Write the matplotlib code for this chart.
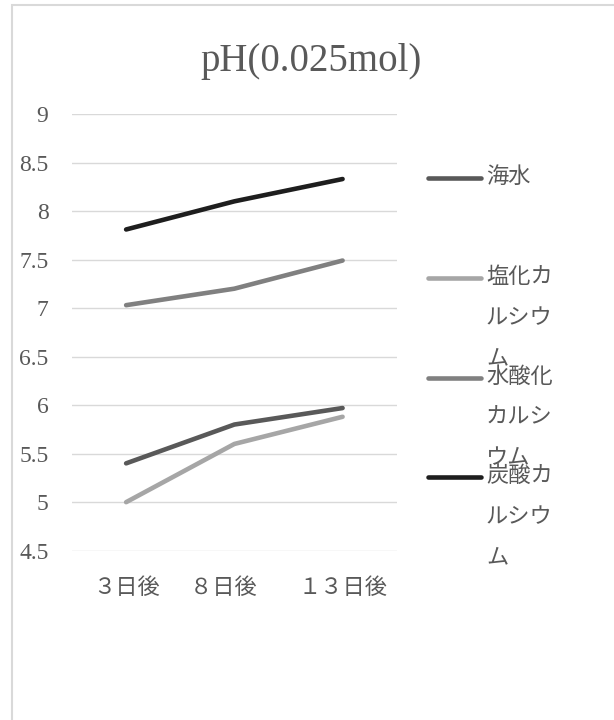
import matplotlib
matplotlib.use("Agg")
import matplotlib.pyplot as plt
from matplotlib.lines import Line2D
from matplotlib.patches import Rectangle

# Data
days = ["３日後", "８日後　", "１３日後"]
series_names = ["海水", "塩化カルシウム", "水酸化カルシウム", "炭酸カルシウム"]
legend_labels = ["海水", "塩化カ\nルシウ\nム", "水酸化\nカルシ\nウム", "炭酸カ\nルシウ\nム"]
seawater = [5.40, 5.80, 5.97]
calcium_chloride = [5.00, 5.60, 5.88]
calcium_hydroxide = [7.03, 7.20, 7.49]
calcium_carbonate = [7.81, 8.10, 8.33]
y_ticks = [4.5, 5, 5.5, 6, 6.5, 7, 7.5, 8, 8.5, 9]
y_tick_labels = ["4.5", "5", "5.5", "6", "6.5", "7", "7.5", "8", "8.5", "9"]

colors = ["#595959", "#a6a6a6", "#808080", "#1e1e1e"]
text_color = "#595959"
grid_color = "#d9d9d9"

W, H = 614, 720
DPI = 100
fig = plt.figure(figsize=(W / DPI, H / DPI), dpi=DPI)
fig.patch.set_facecolor("white")

def fx(px):
    return px / W

def fy(py):
    return 1 - py / H

# chart-area border (top and left edges visible)
fig.add_artist(Rectangle((fx(11.5), fy(900)), fx(800), fy(5) - fy(900),
                         transform=fig.transFigure, fill=False,
                         edgecolor=grid_color, linewidth=1.5))

ax = fig.add_axes([fx(72), fy(550.7), fx(396.7) - fx(72), fy(114) - fy(550.7)])
ax.set_facecolor("none")

x = list(range(len(days)))
for vals, c in zip([seawater, calcium_chloride, calcium_hydroxide, calcium_carbonate], colors):
    ax.plot(x, vals, color=c, linewidth=3.3, solid_capstyle="round",
            solid_joinstyle="round", zorder=3)

ax.set_xlim(-0.5, len(days) - 0.5)
ax.set_ylim(4.5, 9)
ax.set_yticks(y_ticks)
ax.set_yticklabels(y_tick_labels, family=["Liberation Serif", "Noto Sans CJK JP"],
                   fontsize=17, color=text_color)
ax.set_xticks(x)
ax.set_xticklabels(days, family=["Noto Sans CJK JP"], fontsize=16, color=text_color)
ax.tick_params(axis="both", length=0)
ax.tick_params(axis="y", pad=17)
ax.tick_params(axis="x", pad=18)
ax.grid(axis="y", color=grid_color, linewidth=1.0, zorder=0)
for s in ax.spines.values():
    s.set_visible(False)

# title
fig.text(fx(311), fy(61), "pH(0.025mol)", ha="center", va="center",
         family=["Liberation Serif", "Noto Sans CJK JP"], fontsize=28, color=text_color)

# legend
legend_y = [178.3, 278.3, 378.3, 477.3]
for lab, c, ly in zip(legend_labels, colors, legend_y):
    fig.add_artist(Line2D([fx(428), fx(481)], [fy(ly), fy(ly)], transform=fig.transFigure,
                          color=c, linewidth=3.3, solid_capstyle="round"))
    fig.text(fx(486), fy(ly - 13), lab, ha="left", va="top",
             family=["Noto Sans CJK JP"], fontsize=16, color=text_color,
             linespacing=1.97)

fig.savefig("out.png", dpi=DPI, facecolor="white")
